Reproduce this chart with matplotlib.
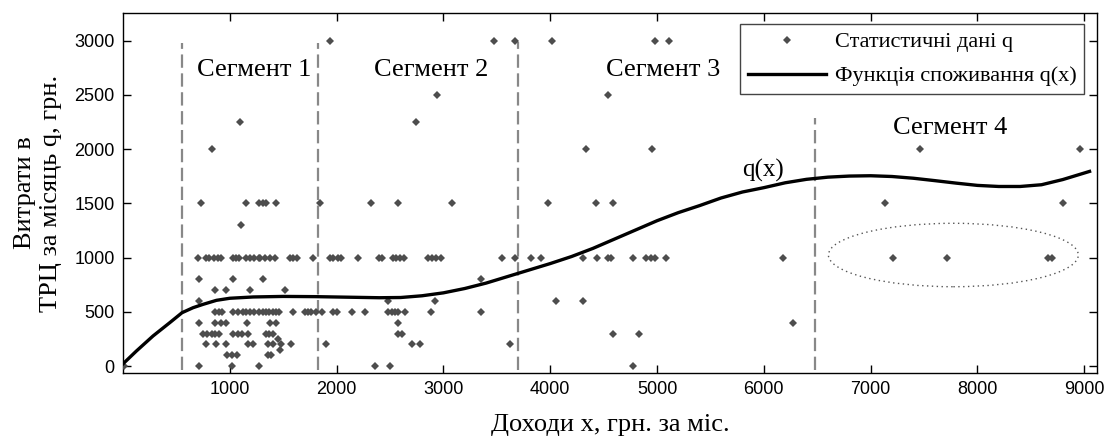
import numpy as np
import matplotlib
matplotlib.use('Agg')
import matplotlib.pyplot as plt
from matplotlib.patches import Ellipse

# Statistical data q, grouped by spending level (grn)
q_levels = [0, 100, 150, 200, 250, 300, 400, 500, 600, 700, 800, 1000, 1300, 1500, 2000, 2250, 2500, 3000]
inc_0 = [10, 710, 1020, 1275, 2360, 2500, 4775]
inc_100 = [970, 1025, 1070, 1360, 1385]
inc_150 = [1466]
inc_200 = [775, 870, 965, 1170, 1215, 1360, 1400, 1480, 1575, 1905, 2705, 2778, 3625]
inc_250 = [1450]
inc_300 = [750, 790, 830, 860, 900, 1030, 1075, 1110, 1170, 1340, 1370, 1405, 2575, 2610, 4590, 4830]
inc_400 = [715, 860, 920, 965, 1160, 1375, 1435, 2575, 6270]
inc_500 = [860, 900, 930, 1030, 1075, 1120, 1155, 1190, 1230, 1270, 1310, 1340, 1370, 1405,
           1435, 1465, 1590, 1700, 1730, 1765, 1810, 1860, 1965, 2000, 2140, 2265, 2480,
           2515, 2545, 2575, 2640, 2880, 3355]
inc_600 = [710, 2480, 2925, 4050, 4307]
inc_700 = [857, 967, 1192, 1513]
inc_800 = [715, 1030, 1310, 3355]
inc_1000 = [700, 780, 810, 848, 888, 920, 1030, 1060, 1090, 1150, 1190, 1230, 1270, 1280,
            1326, 1372, 1419, 1560, 1591, 1632, 1778, 1934, 1966, 2013, 2044, 2200, 2396,
            2428, 2529, 2560, 2597, 2628, 2855, 2893, 2934, 2981, 3548, 3667, 3824, 3918,
            4307, 4438, 4541, 4573, 4775, 4901, 4948, 4979, 5082, 6180, 7212, 7711, 8663, 8695]
inc_1300 = [1107]
inc_1500 = [733, 1154, 1272, 1310, 1335, 1435, 1847, 2325, 2575, 3080, 3979, 4432, 4588, 7133, 8798]
inc_2000 = [835, 4332, 4954, 7461, 8960]
inc_2250 = [1091, 2740]
inc_2500 = [2940, 4541]
inc_3000 = [1938, 3471, 3667, 4016, 4981, 5110]
inc_rows = [inc_0, inc_100, inc_150, inc_200, inc_250, inc_300, inc_400, inc_500, inc_600,
            inc_700, inc_800, inc_1000, inc_1300, inc_1500, inc_2000, inc_2250, inc_2500, inc_3000]

# Consumption function q(x)
curve_x = [0, 125, 281, 438, 553, 656, 750, 875, 1000, 1219, 1500, 1800, 2100, 2400, 2600,
           2800, 3000, 3200, 3400, 3600, 3800, 4000, 4200, 4400, 4600, 4800, 5000, 5200,
           5400, 5600, 5800, 6000, 6200, 6400, 6600, 6800, 7000, 7200, 7400, 7600, 7800,
           8000, 8200, 8400, 8600, 8800, 9050]
curve_y = [20, 138, 277, 400, 492, 538, 569, 606, 625, 637, 642, 640, 635, 630, 632,
           648, 675, 715, 765, 825, 885, 945, 1010, 1085, 1170, 1255, 1340, 1415,
           1480, 1550, 1605, 1645, 1690, 1722, 1742, 1752, 1755, 1748, 1732, 1710, 1687,
           1666, 1656, 1656, 1672, 1720, 1795]

# Segment borders
seg_x = [550, 1822, 3700, 6480]
seg_top = [2975, 2975, 2990, 2290]
seg_names = ['Сегмент 1', 'Сегмент 2', 'Сегмент 3', 'Сегмент 4']
seg_label_x = [1226, 2890, 5056, 7748]
seg_label_y = [2730, 2730, 2730, 2193]

xs = np.concatenate([np.array(r, dtype=float) for r in inc_rows])
ys = np.concatenate([np.full(len(r), lv, dtype=float) for r, lv in zip(inc_rows, q_levels)])

serif = ['Liberation Serif', 'DejaVu Serif']
fig = plt.figure(figsize=(11.06, 4.41), dpi=100)
ax = fig.add_axes([0.1112, 0.154, 0.8807, 0.8163])

ax.plot(xs, ys, linestyle='none', marker='D', ms=3.8, color='#4d4d4d',
        markeredgewidth=0, label='Статистичні дані q', zorder=3)
ax.plot(curve_x, curve_y, color='black', lw=2.4, label='Функція споживання q(x)', zorder=4,
        solid_joinstyle='round')

for sx, st in zip(seg_x, seg_top):
    ax.plot([sx, sx], [-40, st], color='#888888', lw=1.6, dashes=(6, 2.5), zorder=2)
for name, lx, ly in zip(seg_names, seg_label_x, seg_label_y):
    ax.text(lx, ly, name, family=serif, fontsize=19, ha='center', va='center')

ax.text(5988, 1800, 'q(x)', family=serif, fontsize=18, ha='center', va='center')
ax.add_patch(Ellipse((7775, 1024), 2340, 585, fill=False, edgecolor='#555555',
                     lw=1.0, linestyle=(0, (1, 2.5))))

ax.set_xlim(0, 9120)
ax.set_ylim(-65, 3255)
ax.set_xticks(range(1000, 9001, 1000))
ax.set_yticks(range(0, 3001, 500))
ax.tick_params(direction='in', top=True, right=True, length=6, width=1, labelsize=13, pad=6)
for lab in ax.get_xticklabels() + ax.get_yticklabels():
    lab.set_family(['Liberation Sans', 'DejaVu Sans'])
for sp in ax.spines.values():
    sp.set_linewidth(1.0)

ax.set_xlabel('Доходи x, грн. за міс.', family=serif, fontsize=19, labelpad=11)
ax.set_ylabel('Витрати в\nТРЦ за місяць q, грн.', family=serif, fontsize=19, labelpad=9)

leg = ax.legend(loc='upper right', bbox_to_anchor=(1 - 13 / 974, 1 - 11 / 360),
                borderaxespad=0, prop={'family': serif, 'size': 16}, fancybox=False,
                framealpha=1, edgecolor='#444444', handlelength=3.5, handletextpad=0.4,
                borderpad=0.35, labelspacing=0.6)
leg.get_frame().set_linewidth(1.0)

fig.savefig('out.png', dpi=100)
